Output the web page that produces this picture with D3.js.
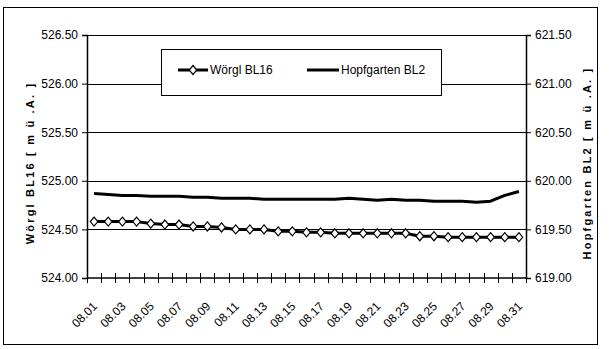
<!DOCTYPE html>
<html>
<head>
<meta charset="utf-8">
<script src="https://cdn.jsdelivr.net/npm/d3@7"></script>
<style>
  body { margin: 0; background: #fff; }
  text { font-family: "Liberation Sans", Arial, sans-serif; }
</style>
</head>
<body>
<div id="chart"></div>
<script>
// data
const days = ["08.01","08.02","08.03","08.04","08.05","08.06","08.07","08.08","08.09","08.10",
              "08.11","08.12","08.13","08.14","08.15","08.16","08.17","08.18","08.19","08.20",
              "08.21","08.22","08.23","08.24","08.25","08.26","08.27","08.28","08.29","08.30","08.31"];

const woergl = [524.58,524.58,524.58,524.58,524.56,524.55,524.55,524.53,524.53,524.52,
                524.50,524.50,524.50,524.48,524.48,524.47,524.47,524.46,524.46,524.46,
                524.46,524.46,524.46,524.43,524.43,524.42,524.42,524.42,524.42,524.42,524.42];

const hopf = [619.87,619.86,619.85,619.85,619.84,619.84,619.84,619.83,619.83,619.82,
              619.82,619.82,619.81,619.81,619.81,619.81,619.81,619.81,619.82,619.81,
              619.80,619.81,619.80,619.80,619.79,619.79,619.79,619.78,619.79,619.85,619.89];

const leftTicks = [524.00, 524.50, 525.00, 525.50, 526.00, 526.50];
const rightTicks = [619.00, 619.50, 620.00, 620.50, 621.00, 621.50];

const W = 612, H = 349;
const plot = {left: 87, right: 526, top: 35, bottom: 278};

const svg = d3.select("#chart").append("svg")
    .attr("width", W).attr("height", H);

// outer frame
svg.append("rect")
    .attr("x", 3.5).attr("y", 7.5)
    .attr("width", 594).attr("height", 337)
    .attr("fill", "#fff").attr("stroke", "#000");

const x = d3.scaleBand().domain(days).range([plot.left, plot.right]).paddingInner(0);
const yL = d3.scaleLinear().domain([524, 526.5]).range([plot.bottom, plot.top]);
const yR = d3.scaleLinear().domain([619, 621.5]).range([plot.bottom, plot.top]);

// gridlines
svg.append("g").selectAll("line")
  .data(leftTicks.slice(1))
  .enter().append("line")
    .attr("x1", plot.left).attr("x2", plot.right)
    .attr("y1", d => Math.round(yL(d)) + 0.5).attr("y2", d => Math.round(yL(d)) + 0.5)
    .attr("stroke", "#000").attr("stroke-width", 1);

// left axis
const gL = svg.append("g")
    .attr("transform", `translate(${plot.left},0)`)
    .call(d3.axisLeft(yL).tickValues(leftTicks).tickFormat(d3.format(".2f")).tickSize(5).tickPadding(4));

// right axis
const gR = svg.append("g")
    .attr("transform", `translate(${plot.right},0)`)
    .call(d3.axisRight(yR).tickValues(rightTicks).tickFormat(d3.format(".2f")).tickSize(5).tickPadding(4));

[gL, gR].forEach(g => {
  g.select(".domain").attr("stroke", "#000").attr("stroke-width", 1.5);
  g.selectAll(".tick line").attr("stroke", "#000");
  g.selectAll(".tick text").attr("font-size", 12).attr("fill", "#000")
    .attr("font-family", "Liberation Sans, Arial, sans-serif");
});

// bottom axis line
svg.append("line")
    .attr("x1", plot.left).attr("x2", plot.right)
    .attr("y1", plot.bottom).attr("y2", plot.bottom)
    .attr("stroke", "#000").attr("stroke-width", 1.5);

// x ticks at category boundaries, crossing the axis
const bounds = days.map(d => x(d)).concat([x.range()[1]]);
svg.append("g").selectAll("line")
  .data(bounds)
  .enter().append("line")
    .attr("x1", d => Math.round(d) + 0.5).attr("x2", d => Math.round(d) + 0.5)
    .attr("y1", plot.bottom - 5).attr("y2", plot.bottom + 5)
    .attr("stroke", "#000");

// x labels, every other day, rotated
svg.append("g").selectAll("text")
  .data(days.filter((d, i) => i % 2 === 0))
  .enter().append("text")
    .attr("transform", d => `translate(${x(d) + x.bandwidth() / 2 + 1},${plot.bottom + 26}) rotate(-45)`)
    .attr("text-anchor", "end")
    .attr("dy", "0.35em")
    .attr("font-size", 12)
    .text(d => d);

// series lines
const lineL = d3.line().x((d, i) => x(days[i]) + x.bandwidth() / 2).y(d => yL(d));
const lineR = d3.line().x((d, i) => x(days[i]) + x.bandwidth() / 2).y(d => yR(d));

svg.append("path").datum(hopf)
    .attr("d", lineR).attr("fill", "none")
    .attr("stroke", "#000").attr("stroke-width", 3).attr("stroke-linejoin", "round");

svg.append("path").datum(woergl)
    .attr("d", lineL).attr("fill", "none")
    .attr("stroke", "#000").attr("stroke-width", 3).attr("stroke-linejoin", "round");

const diamond = "M0,-4.5L3.8,0L0,4.5L-3.8,0Z";
svg.append("g").selectAll("path")
  .data(woergl)
  .enter().append("path")
    .attr("d", diamond)
    .attr("transform", (d, i) => `translate(${x(days[i]) + x.bandwidth() / 2},${yL(d)})`)
    .attr("fill", "#fff").attr("stroke", "#000").attr("stroke-width", 1.2);

// legend
const lg = svg.append("g");
lg.append("rect")
    .attr("x", 161.5).attr("y", 49.5).attr("width", 280).attr("height", 46)
    .attr("fill", "#fff").attr("stroke", "#000");
lg.append("line").attr("x1", 178).attr("x2", 208).attr("y1", 70).attr("y2", 70)
    .attr("stroke", "#000").attr("stroke-width", 3);
lg.append("path").attr("d", diamond).attr("transform", "translate(193,70)")
    .attr("fill", "#fff").attr("stroke", "#000").attr("stroke-width", 1.2);
lg.append("text").attr("x", 210).attr("y", 70).attr("dy", "0.35em")
    .attr("font-size", 12).text("Wörgl BL16");
lg.append("line").attr("x1", 307).attr("x2", 339).attr("y1", 70).attr("y2", 70)
    .attr("stroke", "#000").attr("stroke-width", 3);
lg.append("text").attr("x", 341).attr("y", 70).attr("dy", "0.35em")
    .attr("font-size", 12).text("Hopfgarten BL2");

// axis titles
svg.append("text")
    .attr("transform", "translate(30,163) rotate(-90)")
    .attr("text-anchor", "middle").attr("dy", "0.35em")
    .attr("font-size", 11).attr("font-weight", "bold")
    .attr("letter-spacing", 2.2)
    .text("Wörgl BL16 [ m ü .A. ]");

svg.append("text")
    .attr("transform", "translate(587,163) rotate(-90)")
    .attr("text-anchor", "middle").attr("dy", "0.35em")
    .attr("font-size", 11).attr("font-weight", "bold")
    .attr("letter-spacing", 2.2)
    .text("Hopfgarten BL2 [ m ü .A. ]");
</script>
</body>
</html>
